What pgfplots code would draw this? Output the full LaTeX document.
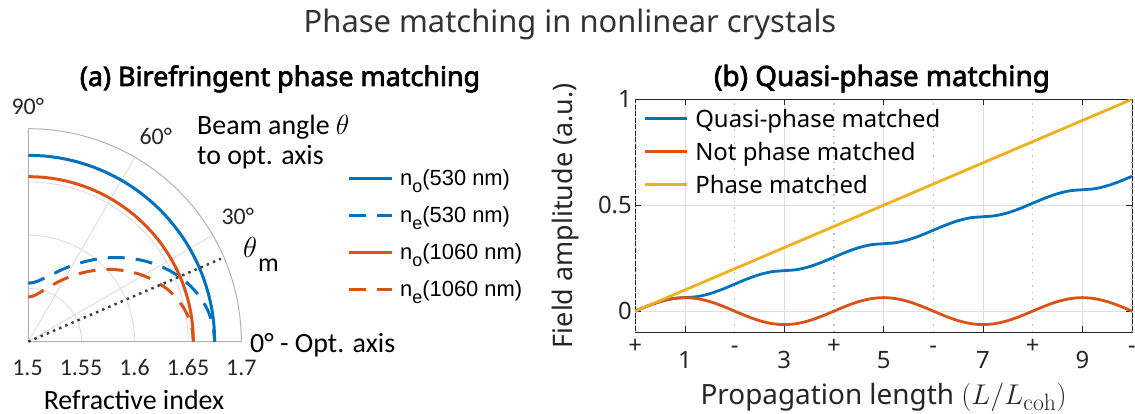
\documentclass[border=0pt]{standalone}
\usepackage{graphicx}
\usepackage{pgfplots}
\pgfplotsset{compat=1.18}
\usepackage{pgfplotstable}
\usepackage[no-math]{fontspec}
\setmainfont{Noto Sans}
\newfontfamily\titlefont{Noto Sans}[FakeBold=2.6]
\newfontfamily\carlito{Carlito}
\newfontfamily\arialf{Liberation Sans}

\definecolor{mblue}{rgb}{0,0.447,0.741}
\definecolor{morange}{rgb}{0.850,0.325,0.098}
\definecolor{myellow}{rgb}{0.929,0.694,0.125}
\definecolor{axgray}{rgb}{0.15,0.15,0.15}

\newcommand{\fs}[1]{\fontsize{#1}{#1}\selectfont}

% Refractive indices versus beam angle (degrees from the optic axis)
\pgfplotstableread{
theta no530 ne530 no1060 ne1060
90 1.675 1.5550 1.655 1.5420
85 1.675 1.5558 1.655 1.5428
80 1.675 1.5583 1.655 1.5451
75 1.675 1.5623 1.655 1.5489
70 1.675 1.5677 1.655 1.5540
65 1.675 1.5746 1.655 1.5605
60 1.675 1.5826 1.655 1.5681
55 1.675 1.5916 1.655 1.5766
50 1.675 1.6014 1.655 1.5858
45 1.675 1.6117 1.655 1.5955
40 1.675 1.6221 1.655 1.6054
35 1.675 1.6325 1.655 1.6151
30 1.675 1.6424 1.655 1.6244
25 1.675 1.6515 1.655 1.6330
20 1.675 1.6595 1.655 1.6405
15 1.675 1.6661 1.655 1.6466
10 1.675 1.6710 1.655 1.6512
5 1.675 1.6740 1.655 1.6541
0 1.675 1.6750 1.655 1.6550
}\indextable

% Field amplitude versus propagation length
\pgfplotstableread{
x notpm qpm pm
0 0 0 0
0.25 0.0244 0.0244 0.025
0.5 0.0450 0.0450 0.05
0.75 0.0588 0.0588 0.075
1 0.0637 0.0637 0.1
1.25 0.0588 0.0685 0.125
1.5 0.0450 0.0823 0.15
1.75 0.0244 0.1030 0.175
2 0 0.1273 0.2
2.25 -0.0244 0.1517 0.225
2.5 -0.0450 0.1723 0.25
2.75 -0.0588 0.1861 0.275
3 -0.0637 0.1910 0.3
3.25 -0.0588 0.1958 0.325
3.5 -0.0450 0.2096 0.35
3.75 -0.0244 0.2303 0.375
4 0 0.2546 0.4
4.25 0.0244 0.2790 0.425
4.5 0.0450 0.2997 0.45
4.75 0.0588 0.3135 0.475
5 0.0637 0.3183 0.5
5.25 0.0588 0.3232 0.525
5.5 0.0450 0.3370 0.55
5.75 0.0244 0.3576 0.575
6 0 0.3820 0.6
6.25 -0.0244 0.4063 0.625
6.5 -0.0450 0.4270 0.65
6.75 -0.0588 0.4408 0.675
7 -0.0637 0.4456 0.7
7.25 -0.0588 0.4505 0.725
7.5 -0.0450 0.4643 0.75
7.75 -0.0244 0.4849 0.775
8 0 0.5093 0.8
8.25 0.0244 0.5337 0.825
8.5 0.0450 0.5543 0.85
8.75 0.0588 0.5681 0.875
9 0.0637 0.5730 0.9
9.25 0.0588 0.5778 0.925
9.5 0.0450 0.5916 0.95
9.75 0.0244 0.6122 0.975
10 0 0.6366 1
}\fieldtable

\begin{document}
\begin{tikzpicture}
\path[use as bounding box] (0bp,0bp) rectangle (1135bp,414bp);

% ---------- titles ----------
\node[anchor=base, font=\fs{31}, text=black!80] at (570bp,381bp) {Phase matching in nonlinear crystals};
\node[anchor=base, font=\titlefont\fs{27}] at (280bp,328bp) {(a) Birefringent phase matching};
\node[anchor=base, font=\titlefont\fs{28}] at (882bp,328bp) {(b) Quasi-phase matching};

% ---------- (a) index surfaces, radius = n - 1.5 ----------
\begin{axis}[
  at={(28.3bp,72.3bp)}, anchor=south west,
  scale only axis, width=213bp, height=213bp,
  xmin=0, xmax=0.2, ymin=0, ymax=0.2,
  hide axis, clip=false,
]
% polar grid
\begin{scope}[draw=black!15, line width=0.8bp]
\draw (axis cs:0.05,0) arc[start angle=0, end angle=90, radius=53.25bp];
\draw (axis cs:0.10,0) arc[start angle=0, end angle=90, radius=106.5bp];
\draw (axis cs:0.15,0) arc[start angle=0, end angle=90, radius=159.75bp];
\draw (axis cs:0,0) -- (axis cs:0.17321,0.1);
\draw (axis cs:0,0) -- (axis cs:0.1,0.17321);
\end{scope}
\draw[black!30, line width=1bp] (axis cs:0,0.2) -- (axis cs:0,0) -- (axis cs:0.2,0)
  arc[start angle=0, end angle=90, radius=213bp];

\addplot[mblue, line width=3bp, smooth] table[
  x expr={(\thisrow{no530}-1.5)*cos(\thisrow{theta})},
  y expr={(\thisrow{no530}-1.5)*sin(\thisrow{theta})}] {\indextable};
\addplot[mblue, line width=3bp, smooth, dash pattern=on 17bp off 11bp] table[
  x expr={(\thisrow{ne530}-1.5)*cos(\thisrow{theta})},
  y expr={(\thisrow{ne530}-1.5)*sin(\thisrow{theta})}] {\indextable};
\addplot[morange, line width=3bp, smooth] table[
  x expr={(\thisrow{no1060}-1.5)*cos(\thisrow{theta})},
  y expr={(\thisrow{no1060}-1.5)*sin(\thisrow{theta})}] {\indextable};
\addplot[morange, line width=3bp, smooth, dash pattern=on 17bp off 11bp] table[
  x expr={(\thisrow{ne1060}-1.5)*cos(\thisrow{theta})},
  y expr={(\thisrow{ne1060}-1.5)*sin(\thisrow{theta})}] {\indextable};
% phase-matching direction (23.3 deg)
\addplot[black!75, line width=2.5bp, dash pattern=on 2.5bp off 4.2bp] coordinates {(0,0) (0.1809,0.0779)};
\end{axis}

\begin{scope}[font=\carlito\fs{24}, text=axgray]
\node[anchor=base west] at (8bp,299bp) {90°};
\node[anchor=base west] at (136bp,269bp) {60°};
\node[anchor=base west] at (218bp,189bp) {30°};
\node[anchor=base] at (27.5bp,39bp) {1.5};
\node[anchor=base] at (81bp,39bp) {1.55};
\node[anchor=base] at (134.5bp,39bp) {1.6};
\node[anchor=base] at (188bp,39bp) {1.65};
\node[anchor=base] at (241.3bp,39bp) {1.7};
\end{scope}
\begin{scope}[font=\carlito\fs{28}, text=black]
\node[anchor=base west, inner xsep=0pt] at (250bp,61bp) {0° - Opt. axis};
\node[anchor=base] at (134bp,5bp) {Refractive index};
\node[anchor=base west, inner xsep=0pt] at (197bp,279bp) {Beam angle \scalebox{1.12}{$\theta$}};
\node[anchor=base west, inner xsep=0pt] at (197bp,249bp) {to opt. axis};
\node[anchor=base west, inner sep=0pt, font=\fs{20}] at (243bp,156bp) {\scalebox{1.4}{$\theta$}};
\node[anchor=base west, inner sep=0pt, font=\carlito\fs{26}] at (258bp,142bp) {m};
\end{scope}

% legend of panel (a)
\begin{axis}[
  at={(0bp,0bp)}, anchor=south west,
  scale only axis, width=1135bp, height=414bp,
  xmin=0, xmax=1, ymin=0, ymax=1, hide axis,
  legend cell align=left,
  legend style={at={(rel axis cs:0.30573,0.60145)}, anchor=north west,
    draw=none, fill=none, inner sep=0pt, row sep=11.2bp, column sep=7bp,
    font=\arialf\fs{22},
    nodes={inner sep=0pt, text height=20bp, text depth=6bp}},
  legend image code/.code={\draw[#1] (0bp,0bp) -- (43bp,0bp);},
]
\addlegendimage{mblue, line width=3bp}
\addlegendentry{n\raisebox{-7bp}{\fs{18}o}(530 nm)}
\addlegendimage{mblue, line width=3bp, dash pattern=on 17bp off 11bp}
\addlegendentry{n\raisebox{-7bp}{\fs{18}e}(530 nm)}
\addlegendimage{morange, line width=3bp}
\addlegendentry{n\raisebox{-7bp}{\fs{18}o}(1060 nm)}
\addlegendimage{morange, line width=3bp, dash pattern=on 17bp off 11bp}
\addlegendentry{n\raisebox{-7bp}{\fs{18}e}(1060 nm)}
\end{axis}

% ---------- (b) quasi-phase matching ----------
\begin{axis}[
  at={(635.3bp,81.7bp)}, anchor=south west,
  scale only axis, width=496.7bp, height=233bp,
  xmin=0, xmax=10, ymin=-0.1, ymax=1,
  axis line style={draw=axgray, line width=0.9bp},
  xtick={1,3,5,7,9}, xticklabels={1,3,5,7,9},
  ytick={0,0.5,1}, yticklabels={0,0.5,1},
  xtick pos=both, ytick pos=both,
  tick align=inside, major tick length=6bp,
  tick style={draw=axgray, line width=0.9bp},
  xmajorgrids, ymajorgrids,
  major grid style={draw=black!13, line width=0.9bp},
  extra x ticks={0,2,4,6,8,10},
  extra x tick labels={+,-,+,-,+,-},
  extra x tick style={major tick length=0pt, grid=major,
    major grid style={draw=black!25, line width=1.2bp, dash pattern=on 1.5bp off 5bp},
    xticklabel style={yshift=15bp}},
  xticklabel style={anchor=base, yshift=-36bp, font=\fs{24}, text=axgray},
  yticklabel style={font=\fs{24}, text=axgray},
  xlabel={Propagation length \scalebox{1.15}{$(L/L_{\mathrm{coh}})$}},
  ylabel={Field amplitude (a.u.)},
  xlabel style={at={(rel axis cs:0.5,0)}, anchor=base, yshift=-72bp, font=\fs{28}, text=axgray},
  ylabel style={at={(rel axis cs:-0.1408,0.5)}, anchor=center, font=\fs{27}, text=axgray},
  legend cell align=left,
  legend style={at={(rel axis cs:0,1)}, anchor=north west,
    draw=none, fill=none, inner xsep=8bp, inner ysep=4.4bp,
    row sep=3.8bp, column sep=7bp, font=\fs{24}, text=black,
    nodes={inner sep=0pt, text height=23.2bp, text depth=6bp}},
  legend image code/.code={\draw[#1] (0bp,0bp) -- (42bp,0bp);},
]
\addplot[mblue, line width=2.8bp, smooth] table[x=x, y=qpm] {\fieldtable};
\addlegendentry{Quasi-phase matched}
\addplot[morange, line width=2.8bp, smooth] table[x=x, y=notpm] {\fieldtable};
\addlegendentry{Not phase matched}
\addplot[myellow, line width=2.8bp] table[x=x, y=pm] {\fieldtable};
\addlegendentry{Phase matched}
\end{axis}
\end{tikzpicture}
\end{document}
